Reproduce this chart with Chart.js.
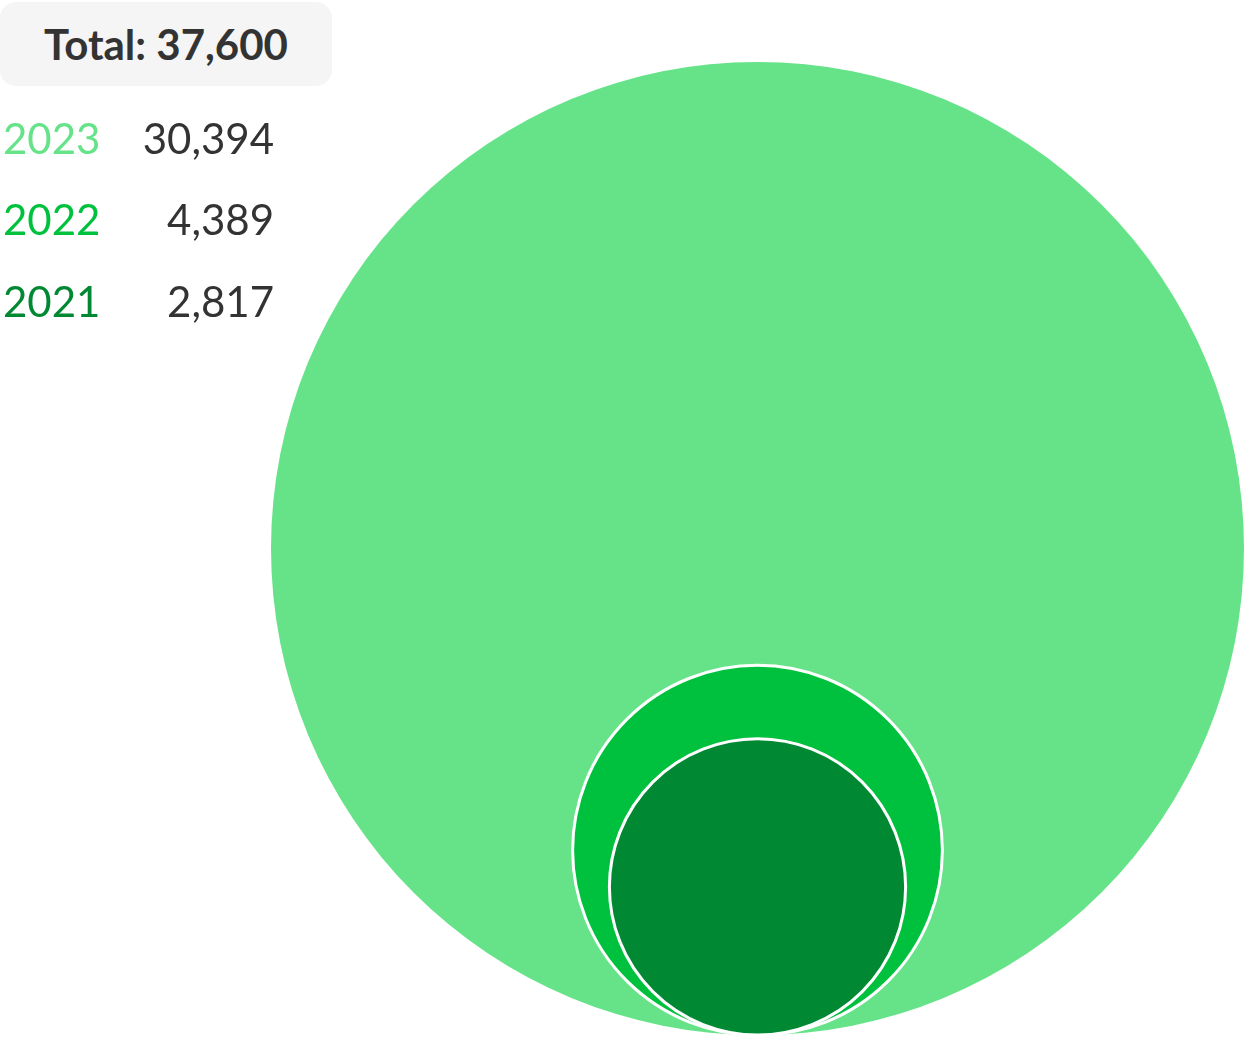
<!DOCTYPE html>
<html>
<head>
<meta charset="utf-8">
<script src="https://cdn.jsdelivr.net/npm/chart.js"></script>
<style>
  html, body { margin: 0; padding: 0; background: #fff; }
  #wrap { position: relative; width: 1246px; height: 1039px; }
  #legend { position: absolute; left: 0; top: 2px; font-family: Lato, sans-serif; color: #333; }
  .total { width: 332px; height: 84px; background: #f5f5f5; border-radius: 16px;
           font-size: 42px; font-weight: 700; line-height: 84px; text-align: center; }
  .row { position: relative; height: 81.5px; width: 280px; font-size: 42px; font-weight: 400; }
  .row span { position: absolute; bottom: 0; line-height: 1; }
  .row .yr { left: 3px; }
  .row .val { right: 6px; }
  .rows { margin-top: -9px; }
</style>
</head>
<body>
<div id="wrap">
  <canvas id="chart1" width="1246" height="1039"></canvas>
  <div id="legend"></div>
</div>
<script>
// Yearly totals, biggest first so the small ones get drawn on top
const years = ['2023', '2022', '2021'];
const values = [30394, 4389, 2817];
const colors = ['#66e389', '#00c13d', '#008833'];

const W = 1246, H = 1039;
const pad = { left: 271, right: 2, top: 62, bottom: 4 };

const maxV = Math.max(...values);
const total = values.reduce((a, b) => a + b, 0);

// legend
const legend = document.getElementById('legend');
let html = '<div class="total">Total: ' + total.toLocaleString('en-US') + '</div><div class="rows">';
years.forEach((y, i) => {
  html += '<div class="row"><span class="yr" style="color:' + colors[i] + '">' + y +
          '</span><span class="val">' + values[i].toLocaleString('en-US') + '</span></div>';
});
legend.innerHTML = html + '</div>';

// bubble area ~ value; all bubbles rest on the bottom edge,
// so centre height (in sqrt units) equals the radius
const plotH = H - pad.top - pad.bottom;
const pxPerUnit = plotH / (2 * Math.sqrt(maxV));
const points = values.map(v => ({ x: 0, y: Math.sqrt(v), r: Math.sqrt(v) * pxPerUnit }));

const ctx = document.getElementById('chart1').getContext('2d');
new Chart(ctx, {
  type: 'bubble',
  data: {
    labels: years,
    datasets: [{
      data: points,
      backgroundColor: colors,
      borderColor: ['rgba(255,255,255,0)', '#ffffff', '#ffffff'],
      borderWidth: 3,
      clip: false
    }]
  },
  options: {
    responsive: false,
    animation: false,
    events: [],
    layout: { autoPadding: false, padding: pad },
    plugins: {
      legend: { display: false },
      tooltip: { enabled: false }
    },
    scales: {
      x: { display: false, min: -1, max: 1 },
      y: { display: false, min: 0, max: 2 * Math.sqrt(maxV) }
    }
  }
});
</script>
</body>
</html>
